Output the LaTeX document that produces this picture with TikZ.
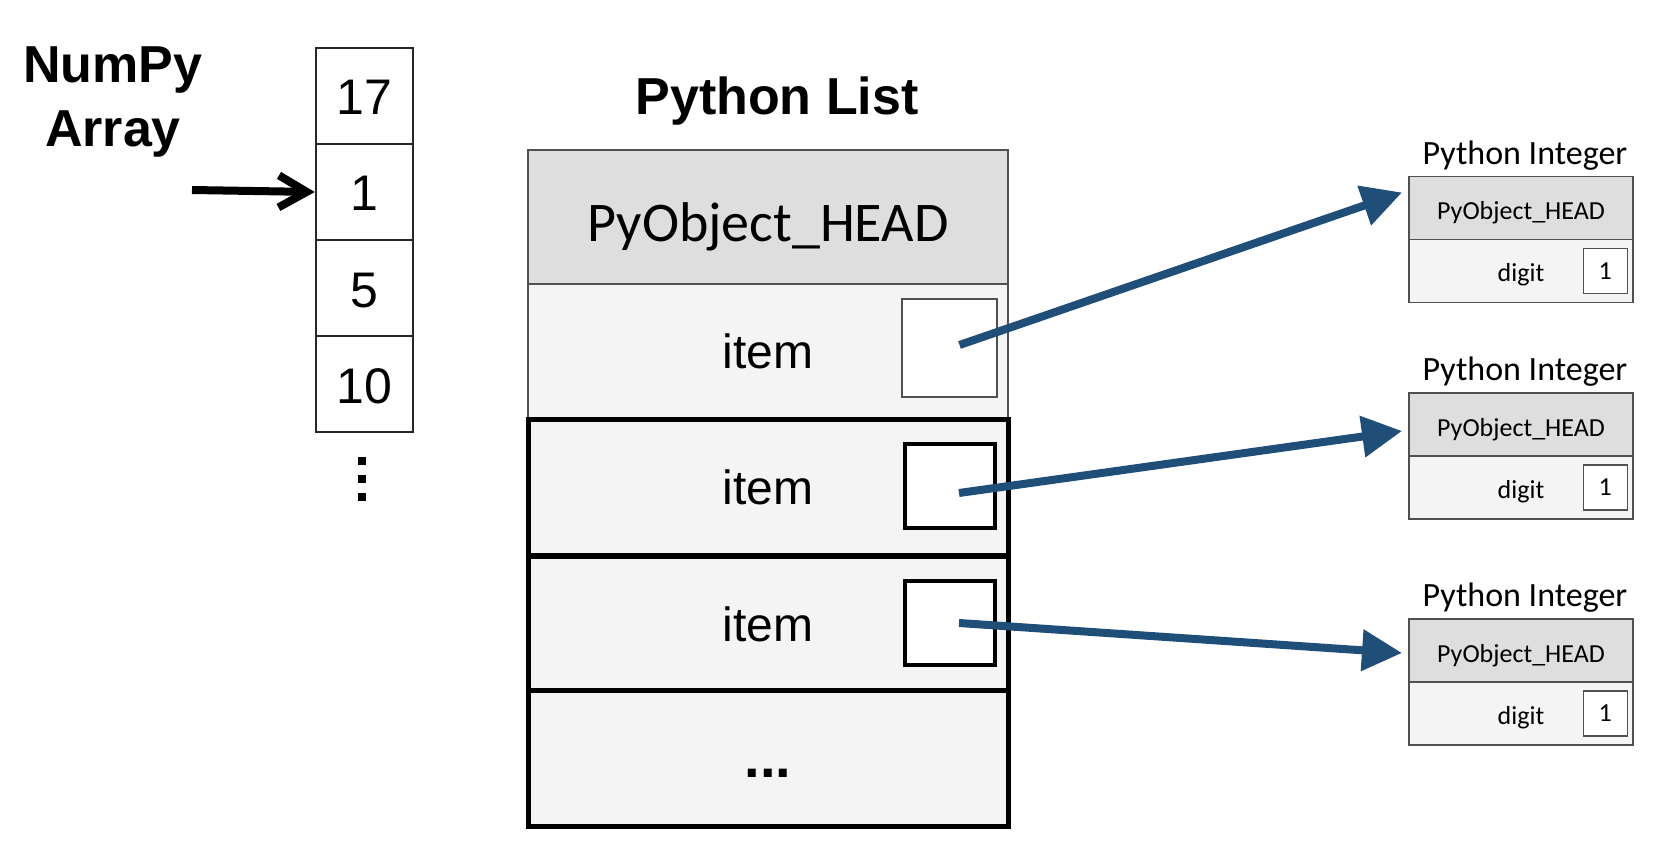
\documentclass[tikz,border=0pt]{standalone}
\usepackage{fontspec}
\setmainfont{Liberation Sans}
\newfontfamily\calibri{Carlito}
\usepackage{xcolor}
\usetikzlibrary{positioning, arrows.meta}

\definecolor{hdgray}{HTML}{DEDEDE}
\definecolor{rowgray}{HTML}{F4F4F4}
\definecolor{edgegray}{HTML}{505050}
\definecolor{ptrblue}{HTML}{1F4E79}

\begin{document}
\begin{tikzpicture}[x=0.5pt, y=-0.5pt,
    bigtitle/.style={font=\bfseries\fontsize{26}{32}\selectfont, inner sep=0pt},
    cell/.style={draw=black!85, line width=1.2pt, minimum width=48.5pt, minimum height=48pt, inner sep=0pt, font=\fontsize{25}{30}\selectfont},
    listrow/.style={minimum width=240pt, minimum height=67pt, inner sep=0pt, outer sep=0pt, fill=rowgray, font=\fontsize{24}{28}\selectfont},
    oldrow/.style={listrow, draw=edgegray, line width=1pt},
    newrow/.style={listrow, draw=black, line width=2.5pt, minimum height=68pt},
    listhead/.style={oldrow, fill=hdgray, font=\calibri\fontsize{28}{34}\selectfont, text height=25pt, text depth=0pt},
    ptrbox/.style={fill=white, draw=black, line width=2pt, minimum width=45pt, minimum height=42pt, inner sep=0pt},
    inthead/.style={draw=edgegray, line width=0.75pt, fill=hdgray, minimum width=112pt, minimum height=31.5pt, inner sep=0pt, outer sep=0pt, font=\calibri\fontsize{13}{15}\selectfont, text height=12pt, text depth=0pt},
    intbody/.style={inthead, fill=rowgray, text height=11pt},
    digitbox/.style={draw=edgegray, line width=0.75pt, fill=white, minimum width=22pt, minimum height=22.5pt, inner sep=0pt, font=\calibri\fontsize{13}{15}\selectfont},
    inttitle/.style={font=\calibri\fontsize{17}{20}\selectfont, inner sep=0pt},
    ptr/.style={draw=ptrblue, line width=4pt, -{Triangle[length=20pt, width=20pt]}}]
    \useasboundingbox (0,0) rectangle (1660,866);

    % numpy array
    \node [bigtitle, align=center, anchor=north] (npl) at (113,46) {NumPy\\Array};
    \foreach \v [count=\i] in {17,1,5,10}
        \node [cell, text depth=0pt, text height=19pt] (a\i) at (364.5,96*\i) {\v};
    \foreach \k in {0,1,2}
        \fill (358,457+18*\k) rectangle ++(8,8);
    \coordinate (np) at (192,190);
    \draw [line width=4pt, -{Straight Barb[length=14pt, width=16pt]}] (np) -- (a2.west);

    % python list
    \node [bigtitle, anchor=base] (pl) at (777,115) {Python List};
    \node [listhead] (hd) at (768,217) {PyObject\_HEAD};
    \node [oldrow] (it1) at (768,351) {item};
    \node [ptrbox, draw=edgegray, line width=1pt, minimum width=47.5pt, minimum height=49pt] (p1) at (949.5,348) {};
    \foreach \i/\y in {2/487,3/624} {
        \node [newrow] (it\i) at (768,\y) {item};
        \node [ptrbox] (p\i) at (950,\y-1) {};
    }
    \node [newrow, font=\bfseries\fontsize{28}{32}\selectfont] (more) at (768,758) {\vphantom{I}...};

    % python integers
    \foreach \i/\y in {1/208,2/424.5,3/650.5} {
        \node [inthead] (ih\i) at (1521,\y) {PyObject\_HEAD};
        \node [intbody, below=0pt of ih\i] (ib\i) {digit};
        \node [digitbox, anchor=east] (d\i) at ([xshift=-2.5pt]ib\i.east) {1};
        \node [inttitle, above=3pt of ih\i, xshift=2pt] (t\i) {Python Integer};
    }

    \draw [ptr] ([xshift=5pt, yshift=1.5pt]p1.center) -- ([xshift=-3.5pt, yshift=7.75pt]ih1.west);
    \draw [ptr] ([xshift=4.5pt, yshift=-3.5pt]p2.center) -- ([xshift=-3.5pt, yshift=-3.25pt]ih2.west);
    \draw [ptr] ([xshift=4.5pt]p3.center) -- ([xshift=-3.5pt, yshift=-1.25pt]ih3.west);
\end{tikzpicture}
\end{document}
